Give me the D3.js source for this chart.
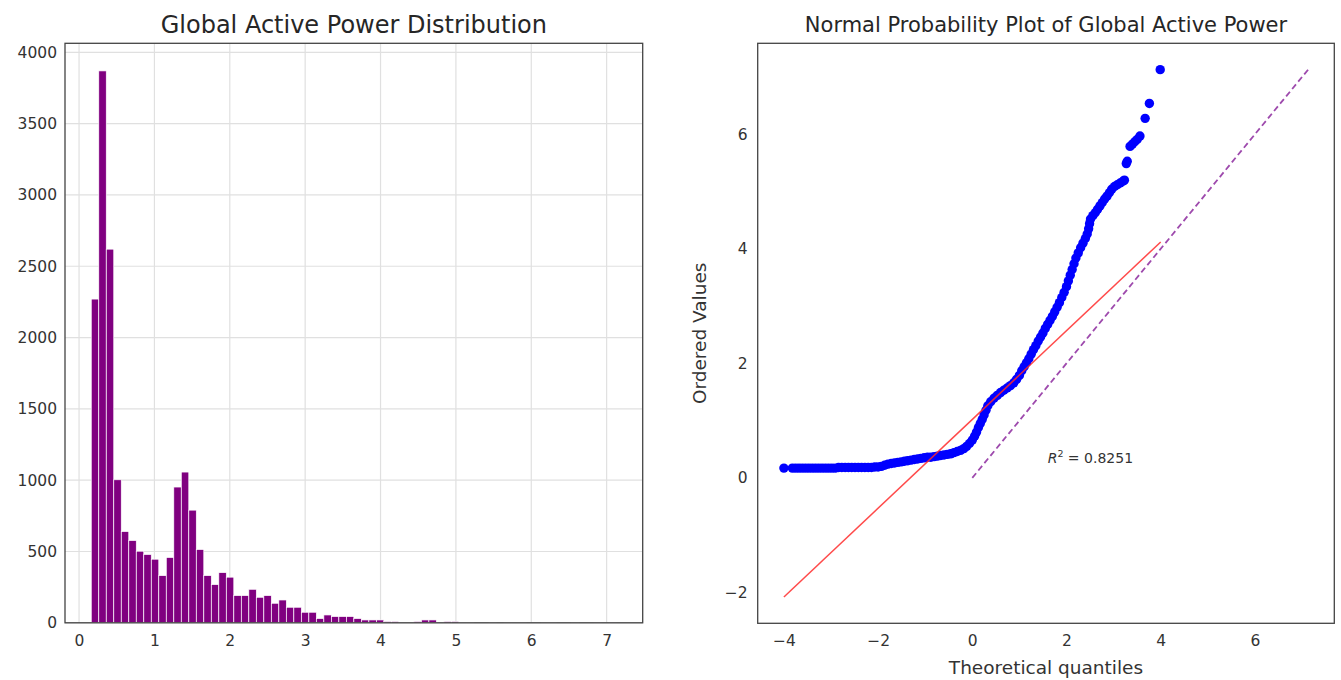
<!DOCTYPE html>
<html>
<head>
<meta charset="utf-8">
<script src="https://cdn.jsdelivr.net/npm/d3@7"></script>
<style>
  html, body { margin: 0; padding: 0; background: #fff; }
  svg { display: block; font-family: "DejaVu Sans", sans-serif; }
</style>
</head>
<body>
<svg id="chart" width="1341" height="680"></svg>
<script>
// ---------------- data ----------------
const histTitle = "Global Active Power Distribution";
const histMin = 0.162;
const histMax = 7.13;
const histCounts = [
  2270, 3870, 2620, 1003, 640, 577, 502, 479, 446, 331,
  458, 952, 1057, 790, 514, 331, 268, 352, 320, 191,
  191, 235, 179, 191, 137, 160, 109, 109, 74, 74,
  30, 55, 44, 44, 44, 30, 20, 20, 20, 9,
  9, 0, 0, 9, 20, 20, 0, 9, 9, 2,
  2, 0, 0, 2, 0, 2, 2, 2, 0, 0,
  2, 2, 0, 0, 2, 0, 0, 1, 0, 1
];
const histXTicks = [0, 1, 2, 3, 4, 5, 6, 7];
const histYTicks = [0, 500, 1000, 1500, 2000, 2500, 3000, 3500, 4000];

const qqTitle = "Normal Probability Plot of Global Active Power";
const qqXLabel = "Theoretical quantiles";
const qqYLabel = "Ordered Values";
const qqTheoretical = [
  -4.00, -3.82, -3.75, -3.68, -3.61, -3.54, -3.47, -3.40, -3.33, -3.26,
  -3.19, -3.12, -3.05, -2.98, -2.91, -2.84, -2.77, -2.70, -2.63, -2.56,
  -2.49, -2.42, -2.35, -2.28, -2.21, -2.14, -2.07, -2.00, -1.93, -1.86,
  -1.79, -1.72, -1.65, -1.58, -1.51, -1.44, -1.37, -1.30, -1.23, -1.16,
  -1.09, -1.02, -0.95, -0.88, -0.81, -0.74, -0.67, -0.60, -0.53, -0.46,
  -0.39, -0.32, -0.25, -0.18, -0.12, -0.06, 0.00, 0.05, 0.09, 0.13,
  0.17, 0.21, 0.25, 0.29, 0.33, 0.39, 0.46, 0.53, 0.60, 0.67,
  0.74, 0.81, 0.88, 0.94, 1.00, 1.05, 1.10, 1.15, 1.20, 1.25,
  1.30, 1.35, 1.40, 1.45, 1.50, 1.55, 1.60, 1.65, 1.70, 1.75,
  1.80, 1.85, 1.90, 1.95, 2.00, 2.04, 2.08, 2.12, 2.16, 2.20,
  2.25, 2.30, 2.35, 2.40, 2.44, 2.47, 2.49, 2.51, 2.56, 2.61,
  2.66, 2.71, 2.76, 2.81, 2.86, 2.91, 2.96, 3.02, 3.08, 3.14,
  3.20, 3.23, 3.27, 3.29, 3.35, 3.40, 3.45, 3.50, 3.56, 3.67,
  3.76, 3.99
];
const qqOrdered = [
  0.17, 0.17, 0.17, 0.17, 0.17, 0.17, 0.17, 0.17, 0.17, 0.17,
  0.17, 0.17, 0.17, 0.17, 0.17, 0.18, 0.18, 0.18, 0.18, 0.18,
  0.18, 0.18, 0.18, 0.18, 0.18, 0.18, 0.19, 0.19, 0.20, 0.22,
  0.24, 0.25, 0.26, 0.27, 0.28, 0.29, 0.30, 0.31, 0.32, 0.33,
  0.34, 0.35, 0.36, 0.36, 0.37, 0.38, 0.39, 0.40, 0.41, 0.42,
  0.44, 0.46, 0.48, 0.51, 0.55, 0.60, 0.66, 0.73, 0.80, 0.88,
  0.95, 1.02, 1.10, 1.18, 1.26, 1.33, 1.39, 1.44, 1.49, 1.53,
  1.57, 1.61, 1.66, 1.72, 1.79, 1.87, 1.94, 2.01, 2.08, 2.16,
  2.24, 2.31, 2.39, 2.46, 2.53, 2.61, 2.68, 2.75, 2.82, 2.90,
  2.98, 3.06, 3.15, 3.24, 3.34, 3.44, 3.54, 3.64, 3.74, 3.84,
  3.93, 4.02, 4.10, 4.18, 4.26, 4.35, 4.44, 4.52, 4.58, 4.63,
  4.69, 4.75, 4.81, 4.87, 4.92, 4.98, 5.04, 5.09, 5.12, 5.15,
  5.18, 5.20, 5.49, 5.53, 5.79, 5.83, 5.87, 5.91, 5.97, 6.28,
  6.54, 7.13
];
const fitLineX = [-4.0, 4.0];
const fitLineY = [-2.08, 4.12];
const refLineX = [0, 7.13];
const refLineY = [0, 7.13];
const qqXTicks = [-4, -2, 0, 2, 4, 6];
const qqYTicks = [-2, 0, 2, 4, 6];
const rSquared = 0.8251;

// ---------------- layout ----------------
const svg = d3.select("#chart");
const L = { x0: 65, x1: 642.7, y0: 43.3, y1: 622.8 };
const R = { x0: 757.7, x1: 1334.3, y0: 43.3, y1: 623.3 };
const tickColor = "#333";
const gridColor = "#e0e0e0";
const frameColor = "#444";
const fmtMinus = d => (d < 0 ? "\u2212" + Math.abs(d) : String(d));

// ---------------- histogram ----------------
const nb = histCounts.length;
const bw = (histMax - histMin) / nb;
const bins = histCounts.map((c, i) => ({ x0: histMin + i * bw, x1: histMin + (i + 1) * bw, c }));
const span = histMax - histMin;
const hx = d3.scaleLinear().domain([histMin - 0.05 * span, histMax + 0.05 * span]).range([L.x0, L.x1]);
const hy = d3.scaleLinear().domain([0, d3.max(histCounts) * 1.05]).range([L.y1, L.y0]);

const gL = svg.append("g");
gL.append("g").selectAll("line.v").data(histXTicks).join("line")
  .attr("x1", d => hx(d)).attr("x2", d => hx(d))
  .attr("y1", L.y0).attr("y2", L.y1)
  .attr("stroke", gridColor).attr("stroke-width", 1.2);
gL.append("g").selectAll("line.h").data(histYTicks).join("line")
  .attr("x1", L.x0).attr("x2", L.x1)
  .attr("y1", d => hy(d)).attr("y2", d => hy(d))
  .attr("stroke", gridColor).attr("stroke-width", 1.2);
gL.append("g").selectAll("rect").data(bins.filter(b => b.c > 0)).join("rect")
  .attr("x", d => hx(d.x0))
  .attr("width", d => hx(d.x1) - hx(d.x0))
  .attr("y", d => hy(d.c))
  .attr("height", d => hy(0) - hy(d.c))
  .attr("fill", "#800080")
  .attr("stroke", "#ffffff")
  .attr("stroke-width", 0.7);
const axLB = gL.append("g").attr("transform", `translate(0,${L.y1})`)
  .call(d3.axisBottom(hx).tickValues(histXTicks).tickSize(0).tickPadding(12).tickFormat(d => String(d)));
const axLL = gL.append("g").attr("transform", `translate(${L.x0},0)`)
  .call(d3.axisLeft(hy).tickValues(histYTicks).tickSize(0).tickPadding(8).tickFormat(d => String(d)));
[axLB, axLL].forEach(a => {
  a.select(".domain").remove();
  a.selectAll("text").attr("fill", tickColor).attr("font-size", 15.5).attr("font-family", "DejaVu Sans");
});
gL.append("rect").attr("x", L.x0).attr("y", L.y0).attr("width", L.x1 - L.x0).attr("height", L.y1 - L.y0)
  .attr("fill", "none").attr("stroke", frameColor).attr("stroke-width", 1.3);
gL.append("text").attr("x", (L.x0 + L.x1) / 2).attr("y", 33).attr("text-anchor", "middle")
  .attr("font-size", 24).attr("fill", "#262626").text(histTitle);

// ---------------- QQ plot ----------------
const allX = qqTheoretical.concat(fitLineX, refLineX);
const allY = qqOrdered.concat(fitLineY, refLineY);
const xmn = d3.min(allX), xmx = d3.max(allX), ymn = d3.min(allY), ymx = d3.max(allY);
const qx = d3.scaleLinear().domain([xmn - 0.05 * (xmx - xmn), xmx + 0.05 * (xmx - xmn)]).range([R.x0, R.x1]);
const qy = d3.scaleLinear().domain([ymn - 0.05 * (ymx - ymn), ymx + 0.05 * (ymx - ymn)]).range([R.y1, R.y0]);

const gR = svg.append("g");
const line = d3.line().x(d => qx(d[0])).y(d => qy(d[1]));
gR.append("g").selectAll("circle").data(qqTheoretical.map((x, i) => [x, qqOrdered[i]])).join("circle")
  .attr("cx", d => qx(d[0])).attr("cy", d => qy(d[1])).attr("r", 4.7)
  .attr("fill", "#0000ff");
gR.append("path").datum(fitLineX.map((x, i) => [x, fitLineY[i]]))
  .attr("d", line).attr("stroke", "#ff2a2a").attr("stroke-width", 1.5).attr("fill", "none").attr("opacity", 0.85);
gR.append("path").datum(refLineX.map((x, i) => [x, refLineY[i]]))
  .attr("d", line).attr("stroke", "#9e4aad").attr("stroke-width", 1.8)
  .attr("stroke-dasharray", "6,3.5").attr("fill", "none");
const axRB = gR.append("g").attr("transform", `translate(0,${R.y1})`)
  .call(d3.axisBottom(qx).tickValues(qqXTicks).tickSize(0).tickPadding(12).tickFormat(fmtMinus));
const axRL = gR.append("g").attr("transform", `translate(${R.x0},0)`)
  .call(d3.axisLeft(qy).tickValues(qqYTicks).tickSize(0).tickPadding(10).tickFormat(fmtMinus));
[axRB, axRL].forEach(a => {
  a.select(".domain").remove();
  a.selectAll("text").attr("fill", tickColor).attr("font-size", 15.5).attr("font-family", "DejaVu Sans");
});
gR.append("rect").attr("x", R.x0).attr("y", R.y0).attr("width", R.x1 - R.x0).attr("height", R.y1 - R.y0)
  .attr("fill", "none").attr("stroke", frameColor).attr("stroke-width", 1.3);
gR.append("text").attr("x", (R.x0 + R.x1) / 2).attr("y", 32).attr("text-anchor", "middle")
  .attr("font-size", 21).attr("fill", "#262626").text(qqTitle);
gR.append("text").attr("x", (R.x0 + R.x1) / 2).attr("y", 674).attr("text-anchor", "middle")
  .attr("font-size", 18.5).attr("fill", "#333").text(qqXLabel);
gR.append("text").attr("transform", `translate(706,${(R.y0 + R.y1) / 2}) rotate(-90)`)
  .attr("text-anchor", "middle").attr("font-size", 18.5).attr("fill", "#333").text(qqYLabel);
const ann = gR.append("text").attr("x", qx(1.6)).attr("y", qy(0.26)).attr("font-size", 14).attr("fill", "#333");
ann.append("tspan").attr("font-style", "italic").text("R");
ann.append("tspan").attr("font-size", 9.5).attr("dy", -6).text("2");
ann.append("tspan").attr("dy", 6).text(" = " + rSquared.toFixed(4));
</script>
</body>
</html>
